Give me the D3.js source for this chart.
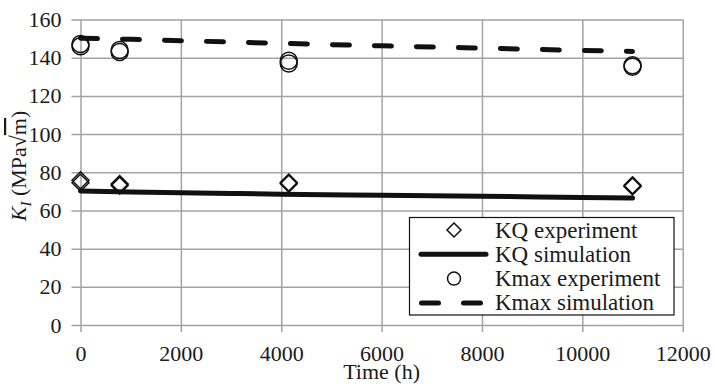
<!DOCTYPE html>
<html>
<head>
<meta charset="utf-8">
<script src="https://cdn.jsdelivr.net/npm/d3@7"></script>
<style>
  html, body { margin: 0; padding: 0; background: #fff; }
  svg { display: block; font-family: "Liberation Serif", serif; }
</style>
</head>
<body>
<svg id="chart" width="715" height="384"></svg>
<script>
// Fracture toughness K_I over exposure time
const xTicks = [0, 2000, 4000, 6000, 8000, 10000, 12000];
const yTicks = [0, 20, 40, 60, 80, 100, 120, 140, 160];

// measured specimens (two per inspection time)
const expTime = [0, 0, 780, 780, 4150, 4150, 11000, 11000];
const kqExperiment = [75.8, 74.5, 73.8, 73.0, 74.6, 74.0, 73.2, 72.6];
const kmaxExperiment = [147.2, 146.0, 144.0, 143.0, 138.4, 137.0, 136.0, 135.3];

// simulated curves
const simTime = [0, 1000, 2000, 3000, 4000, 6000, 8000, 10000, 11000];
const kqSimulation = [70.2, 69.7, 69.3, 68.9, 68.5, 67.9, 67.4, 66.8, 66.5];
const kmaxSimulation = [150.2, 149.6, 148.9, 148.2, 147.5, 146.2, 145.0, 143.8, 143.3];

const legendLabels = ["KQ experiment", "KQ simulation", "Kmax experiment", "Kmax simulation"];

const FONT = "Liberation Serif";
const INK = "#1a1a1a";

const svg = d3.select("#chart");
const plotLeft = 80.5, plotRight = 682.7, plotTop = 19.5, plotBottom = 325;

const x = d3.scaleLinear().domain([0, 12000]).range([plotLeft, plotRight]);
const y = d3.scaleLinear().domain([0, 160]).range([plotBottom, plotTop]);

const gridColor = "#a3a3a3";

// serif text helper
const serif = (sel, size) => sel.attr("font-family", FONT).style("font-family", FONT)
  .attr("font-size", size).style("font-size", size + "px").style("fill", INK);

// horizontal gridlines with short outer ticks on the left
const yAxis = d3.axisLeft(y).tickValues(yTicks).tickSize(-(plotRight - plotLeft)).tickSizeOuter(0).tickPadding(19);
const gy = svg.append("g").attr("transform", `translate(${plotLeft},0)`).call(yAxis)
  .attr("font-family", FONT).attr("font-size", 22);
gy.select(".domain").remove();
gy.selectAll(".tick line").attr("stroke", gridColor).attr("stroke-width", 1.5).attr("x1", -9);
serif(gy.selectAll(".tick text"), 22);

// vertical gridlines with short outer ticks below
const xAxis = d3.axisBottom(x).tickValues(xTicks).tickFormat(d3.format("d")).tickSize(-(plotBottom - plotTop)).tickSizeOuter(0).tickPadding(20);
const gx = svg.append("g").attr("transform", `translate(0,${plotBottom})`).call(xAxis)
  .attr("font-family", FONT).attr("font-size", 22);
gx.select(".domain").remove();
gx.selectAll(".tick line").attr("stroke", gridColor).attr("stroke-width", 1.5).attr("y1", 7);
serif(gx.selectAll(".tick text"), 22);

const diamond = (cx, cy, h) => `M${cx},${cy - h}L${cx + h},${cy}L${cx},${cy + h}L${cx - h},${cy}Z`;

// KQ experiment markers
svg.append("g").selectAll("path").data(expTime).join("path")
  .attr("d", (t, i) => diamond(x(t), y(kqExperiment[i]), 8.5))
  .attr("fill", "none").attr("stroke", "#111").attr("stroke-width", 1.5);

// KQ simulation curve
const line = (vals) => d3.line().x((t) => x(t)).y((t, i) => y(vals[i])).curve(d3.curveMonotoneX)(simTime);
svg.append("path").attr("d", line(kqSimulation))
  .attr("fill", "none").attr("stroke", "#111").attr("stroke-width", 5).attr("stroke-linecap", "round");

// Kmax experiment markers
svg.append("g").selectAll("circle").data(expTime).join("circle")
  .attr("cx", (t) => x(t)).attr("cy", (t, i) => y(kmaxExperiment[i])).attr("r", 8.5)
  .attr("fill", "none").attr("stroke", "#111").attr("stroke-width", 1.5);

// Kmax simulation curve
svg.append("path").attr("d", line(kmaxSimulation))
  .attr("fill", "none").attr("stroke", "#111").attr("stroke-width", 5)
  .attr("stroke-linecap", "round").attr("stroke-dasharray", "17,25");

// axis titles
serif(svg.append("text").attr("x", (plotLeft + plotRight) / 2).attr("y", 379).attr("text-anchor", "middle"), 22)
  .text("Time (h)");

const yTitle = serif(svg.append("text").attr("transform", "translate(26,166) rotate(-90)")
  .attr("text-anchor", "middle"), 22);
yTitle.append("tspan").style("font-style", "italic").text("K");
yTitle.append("tspan").style("font-style", "italic").style("font-size", "15px").attr("dy", 5).text("I");
yTitle.append("tspan").attr("dy", -5).text(" (MPa");
yTitle.append("tspan").text("√");
yTitle.append("tspan").style("text-decoration", "overline").text("m");
yTitle.append("tspan").text(")");

// legend
const lg = svg.append("g");
lg.append("rect").attr("x", 409.5).attr("y", 217.5).attr("width", 264.5).attr("height", 97.5)
  .attr("fill", "#fff").attr("stroke", "#111").attr("stroke-width", 1.2);
const rowY = [230, 254.3, 278.6, 302.9];
lg.append("path").attr("d", diamond(454, rowY[0], 7)).attr("fill", "none").attr("stroke", "#111").attr("stroke-width", 1.5);
lg.append("line").attr("x1", 421).attr("x2", 486).attr("y1", rowY[1]).attr("y2", rowY[1])
  .attr("stroke", "#111").attr("stroke-width", 5).attr("stroke-linecap", "round");
lg.append("circle").attr("cx", 454).attr("cy", rowY[2]).attr("r", 6.5).attr("fill", "none").attr("stroke", "#111").attr("stroke-width", 1.5);
lg.append("line").attr("x1", 421.5).attr("x2", 486).attr("y1", rowY[3]).attr("y2", rowY[3])
  .attr("stroke", "#111").attr("stroke-width", 5).attr("stroke-linecap", "round").attr("stroke-dasharray", "17,25");
serif(lg.selectAll("text.lab").data(legendLabels).join("text").attr("class", "lab")
  .attr("x", 495).attr("y", (d, i) => rowY[i] + 7.5), 23)
  .text((d) => d);
</script>
</body>
</html>
